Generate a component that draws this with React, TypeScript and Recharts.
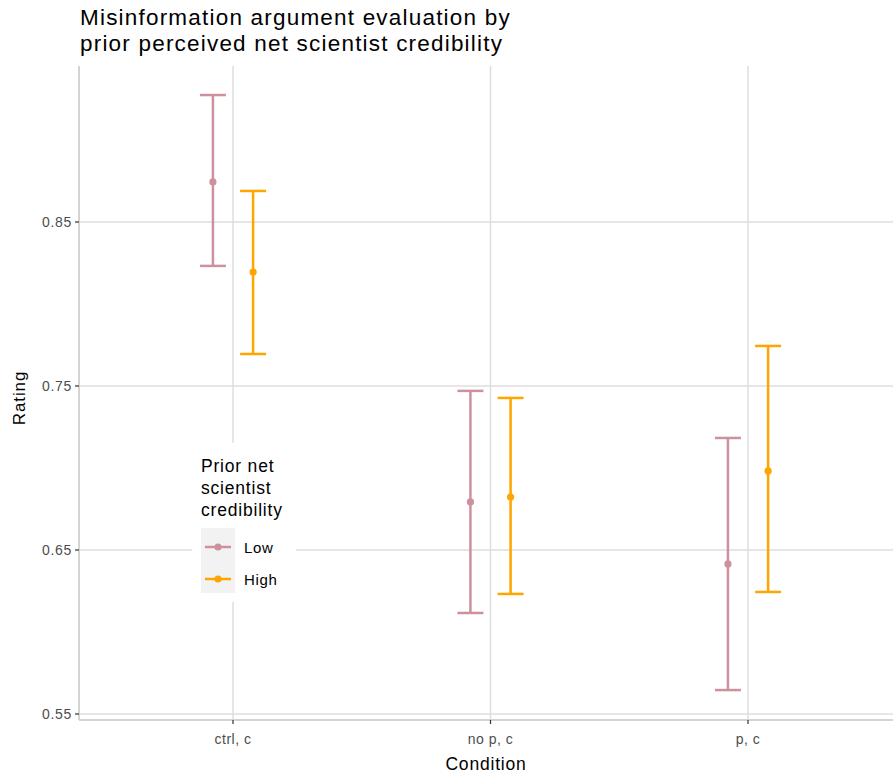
import React from 'react'
import {
    ComposedChart,
    Scatter,
    ErrorBar,
    XAxis,
    YAxis,
    CartesianGrid,
} from 'recharts'

const conditions = ['ctrl, c', 'no p, c', 'p, c']

const lowMean = [0.8744, 0.6793, 0.6415]
const lowLower = [0.8232, 0.6116, 0.5646]
const lowUpper = [0.9274, 0.747, 0.7183]

const highMean = [0.8195, 0.6823, 0.6982]
const highLower = [0.7695, 0.6232, 0.6244]
const highUpper = [0.8689, 0.7427, 0.7744]

const yTicks = [0.55, 0.65, 0.75, 0.85]
const xTicks = [1, 2, 3]

const LOW_COLOR = '#CD919E'
const HIGH_COLOR = '#FFA500'
const DODGE = 0.078
const FONT = '"Liberation Sans", Arial, sans-serif'

const buildSeries = (mean: number[], lower: number[], upper: number[], shift: number) =>
    mean.map((m, i) => ({
        x: i + 1 + shift,
        y: m,
        err: [m - lower[i], upper[i] - m],
    }))

const lowData = buildSeries(lowMean, lowLower, lowUpper, -DODGE)
const highData = buildSeries(highMean, highLower, highUpper, DODGE)

const dot = (color: string) => (props: any) => (
    <circle cx={props.cx} cy={props.cy} r={3.6} fill={color} />
)

const RatingLabel = (props: any) => {
    const vb = props.viewBox || { y: 66, height: 654 }
    const cy = vb.y + vb.height / 2 + 5
    return (
        <text
            transform={`translate(25, ${cy}) rotate(-90)`}
            textAnchor="middle"
            fontSize={17}
            letterSpacing={0.9}
            fill="#000"
            fontFamily={FONT}
        >
            Rating
        </text>
    )
}

const LegendKey = ({ color }: { color: string }) => (
    <svg width={34} height={32} style={{ display: 'block' }}>
        <line x1={4} x2={30} y1={16} y2={16} stroke={color} strokeWidth={2.5} />
        <circle cx={17} cy={16} r={3.6} fill={color} />
    </svg>
)

export default function App() {
    return (
        <div
            style={{
                position: 'absolute',
                left: 0,
                top: 0,
                width: 893,
                height: 773,
                background: '#fff',
                fontFamily: FONT,
            }}
        >
            <div
                style={{
                    position: 'absolute',
                    left: 80,
                    top: 5,
                    fontSize: 22.5,
                    lineHeight: '26px',
                    letterSpacing: 1.2,
                    color: '#000',
                }}
            >
                Misinformation argument evaluation by
                <br />
                prior perceived net scientist credibility
            </div>

            <ComposedChart
                width={893}
                height={773}
                margin={{ top: 66, right: 0, bottom: 0, left: 0 }}
                style={{ fontFamily: FONT }}
            >
                <CartesianGrid
                    stroke="#DEDEDE"
                    strokeWidth={1.5}
                    horizontalValues={yTicks}
                    verticalValues={xTicks}
                />
                <XAxis
                    type="number"
                    dataKey="x"
                    domain={[0.402, 3.563]}
                    allowDataOverflow
                    ticks={xTicks}
                    tickFormatter={(v: number) => conditions[v - 1] ?? ''}
                    height={53}
                    tickSize={4}
                    tickMargin={10}
                    axisLine={{ stroke: '#D4D4D4', strokeWidth: 2 }}
                    tickLine={{ stroke: '#333', strokeWidth: 1.2 }}
                    tick={{ fill: '#4D4D4D', fontSize: 14, letterSpacing: 0.5 }}
                    label={{
                        value: 'Condition',
                        position: 'insideBottom',
                        offset: 3,
                        fill: '#000',
                        fontSize: 17.5,
                        letterSpacing: 0.8,
                    }}
                />
                <YAxis
                    type="number"
                    dataKey="y"
                    domain={[0.54634, 0.9451]}
                    allowDataOverflow
                    ticks={yTicks}
                    tickFormatter={(v: number) => v.toFixed(2)}
                    width={79}
                    tickSize={4}
                    tickMargin={3}
                    axisLine={{ stroke: '#D4D4D4', strokeWidth: 2 }}
                    tickLine={{ stroke: '#333', strokeWidth: 1.2 }}
                    tick={{ fill: '#4D4D4D', fontSize: 14, letterSpacing: 0.7 }}
                    label={<RatingLabel />}
                />
                <Scatter
                    name="Low"
                    data={lowData}
                    fill={LOW_COLOR}
                    shape={dot(LOW_COLOR)}
                    isAnimationActive={false}
                >
                    <ErrorBar
                        dataKey="err"
                        direction="y"
                        width={13}
                        stroke={LOW_COLOR}
                        strokeWidth={2.5}
                        isAnimationActive={false}
                    />
                </Scatter>
                <Scatter
                    name="High"
                    data={highData}
                    fill={HIGH_COLOR}
                    shape={dot(HIGH_COLOR)}
                    isAnimationActive={false}
                >
                    <ErrorBar
                        dataKey="err"
                        direction="y"
                        width={13}
                        stroke={HIGH_COLOR}
                        strokeWidth={2.5}
                        isAnimationActive={false}
                    />
                </Scatter>
            </ComposedChart>

            <div
                style={{
                    position: 'absolute',
                    left: 192,
                    top: 443,
                    width: 104,
                    height: 159,
                    background: '#fff',
                }}
            >
                <div
                    style={{
                        position: 'absolute',
                        left: 9,
                        top: 12,
                        fontSize: 17.5,
                        lineHeight: '22px',
                        letterSpacing: 0.8,
                        color: '#000',
                    }}
                >
                    Prior net
                    <br />
                    scientist
                    <br />
                    credibility
                </div>
                <div
                    style={{
                        position: 'absolute',
                        left: 9,
                        top: 85,
                        width: 34,
                        height: 65,
                        background: '#F2F2F2',
                    }}
                />
                {[
                    { name: 'Low', color: LOW_COLOR },
                    { name: 'High', color: HIGH_COLOR },
                ].map((item, i) => (
                    <div
                        key={item.name}
                        style={{
                            position: 'absolute',
                            left: 9,
                            top: 88 + i * 32,
                            display: 'flex',
                            alignItems: 'center',
                        }}
                    >
                        <LegendKey color={item.color} />
                        <span
                            style={{
                                marginLeft: 9,
                                fontSize: 15,
                                letterSpacing: 0.7,
                                color: '#000',
                            }}
                        >
                            {item.name}
                        </span>
                    </div>
                ))}
            </div>
        </div>
    )
}
